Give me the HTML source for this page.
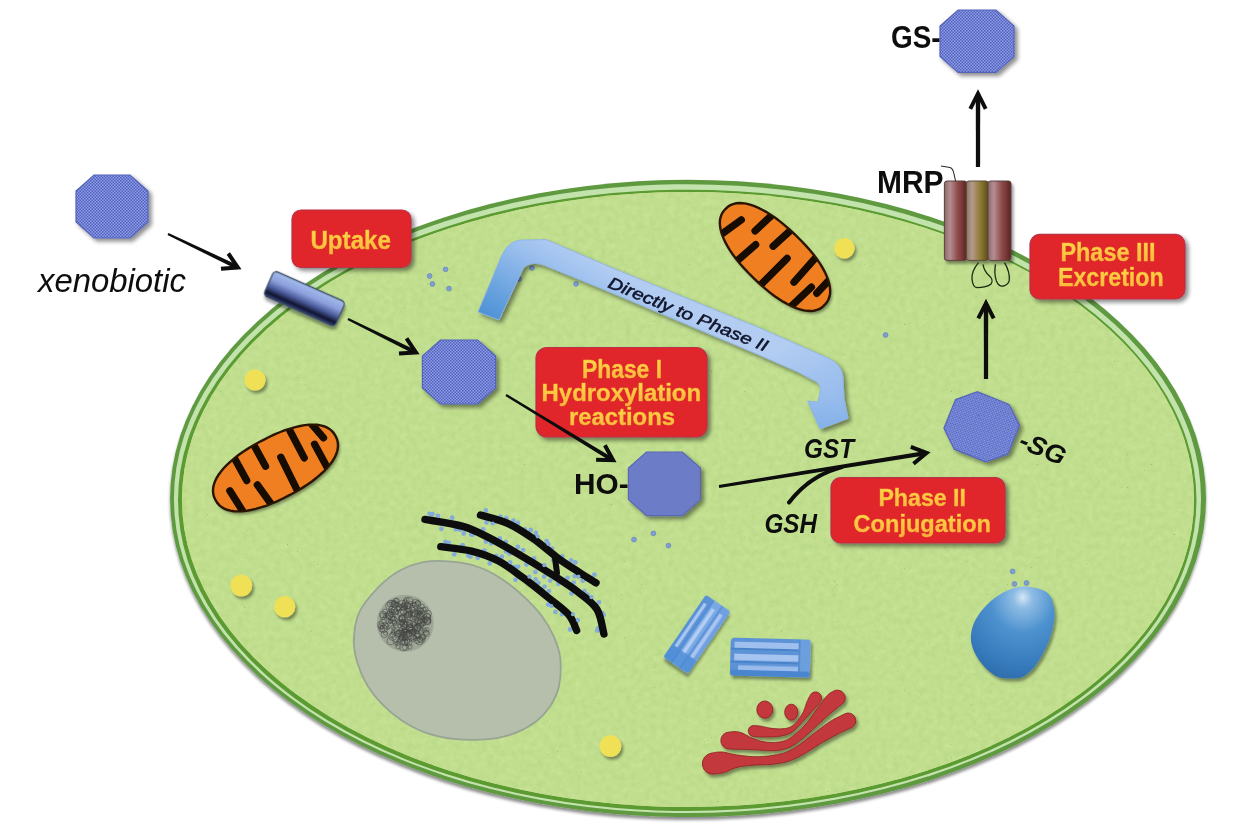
<!DOCTYPE html>
<html><head><meta charset="utf-8"><title>Xenobiotic metabolism</title>
<style>html,body{margin:0;padding:0;background:#fff}svg{display:block;font-family:"Liberation Sans",sans-serif}</style>
</head><body>
<svg width="1250" height="834" viewBox="0 0 1250 834">
<rect width="1250" height="834" fill="#ffffff"/>
<g filter="url(#soft)">

<defs>
<pattern id="chk" width="3" height="3" patternUnits="userSpaceOnUse">
<rect width="3" height="3" fill="#8d9ee6"/><rect width="1.5" height="1.5" fill="#5161bc"/><rect x="1.5" y="1.5" width="1.5" height="1.5" fill="#5161bc"/>
</pattern>
<filter id="sh" x="-20%" y="-20%" width="150%" height="150%"><feGaussianBlur in="SourceAlpha" stdDeviation="2"/><feOffset dx="3" dy="3"/><feComponentTransfer><feFuncA type="linear" slope="0.45"/></feComponentTransfer><feMerge><feMergeNode/><feMergeNode in="SourceGraphic"/></feMerge></filter>
<filter id="shs" x="-20%" y="-20%" width="150%" height="150%"><feGaussianBlur in="SourceAlpha" stdDeviation="1.6"/><feOffset dx="1.5" dy="2.5"/><feComponentTransfer><feFuncA type="linear" slope="0.4"/></feComponentTransfer><feMerge><feMergeNode/><feMergeNode in="SourceGraphic"/></feMerge></filter>
<filter id="cellsh" x="-5%" y="-5%" width="110%" height="112%"><feGaussianBlur in="SourceAlpha" stdDeviation="1.5"/><feOffset dx="0" dy="2.5"/><feComponentTransfer><feFuncA type="linear" slope="0.45"/></feComponentTransfer><feMerge><feMergeNode/><feMergeNode in="SourceGraphic"/></feMerge></filter>
<filter id="soft"><feGaussianBlur stdDeviation="0.75"/></filter>
<filter id="noise" x="0" y="0" width="100%" height="100%" color-interpolation-filters="sRGB"><feTurbulence type="fractalNoise" baseFrequency="0.16" numOctaves="3" seed="5" result="n"/><feColorMatrix in="n" type="matrix" values="0.075 0 0 0 0.717  0.05 0 0 0 0.846  0.08 0 0 0 0.517  0 0 0 0 1" result="c"/><feTurbulence type="fractalNoise" baseFrequency="0.7" numOctaves="1" seed="9" result="m"/><feColorMatrix in="m" type="matrix" values="0 0 0 0 0.42  0 0 0 0 0.56  0 0 0 0 0.25  0 0 0 -7 1.6" result="sp"/><feMerge result="all"><feMergeNode in="c"/><feMergeNode in="sp"/></feMerge><feComposite in="all" in2="SourceGraphic" operator="in"/></filter>
<linearGradient id="ytxt" x1="0" y1="0" x2="0" y2="1"><stop offset="0" stop-color="#ffe04a"/><stop offset="1" stop-color="#fbb13a"/></linearGradient>
<linearGradient id="cyl" x1="0" y1="0" x2="0" y2="1"><stop offset="0" stop-color="#a4bcec"/><stop offset="0.35" stop-color="#8c9fdc"/><stop offset="0.62" stop-color="#4a5a9a"/><stop offset="0.84" stop-color="#10152f"/><stop offset="1" stop-color="#33417a"/></linearGradient>
<linearGradient id="mrpA" x1="0" y1="0" x2="1" y2="0"><stop offset="0" stop-color="#8a6a6a"/><stop offset="0.25" stop-color="#b48e92"/><stop offset="0.6" stop-color="#8e4a48"/><stop offset="1" stop-color="#5e2420"/></linearGradient>
<linearGradient id="mrpB" x1="0" y1="0" x2="1" y2="0"><stop offset="0" stop-color="#8a7468"/><stop offset="0.25" stop-color="#b49a8c"/><stop offset="0.65" stop-color="#8c7a30"/><stop offset="1" stop-color="#5a4a1c"/></linearGradient>
<linearGradient id="barrow" gradientUnits="userSpaceOnUse" x1="486" y1="320" x2="540" y2="228"><stop offset="0" stop-color="#4a90d6"/><stop offset="0.35" stop-color="#6fa6e0"/><stop offset="0.75" stop-color="#9cc0ee"/><stop offset="1" stop-color="#b2ccf2"/></linearGradient>
<linearGradient id="barrow2" gradientUnits="userSpaceOnUse" x1="790" y1="345" x2="832" y2="425"><stop offset="0" stop-color="#8ab4ea" stop-opacity="0"/><stop offset="0.5" stop-color="#8ab4ea" stop-opacity="0.45"/><stop offset="1" stop-color="#7eaee8" stop-opacity="0.75"/></linearGradient>
<radialGradient id="egg" cx="0.62" cy="0.12" r="0.95"><stop offset="0" stop-color="#d4e6f6"/><stop offset="0.12" stop-color="#8ebce4"/><stop offset="0.4" stop-color="#4e92cf"/><stop offset="0.8" stop-color="#3579bb"/><stop offset="1" stop-color="#2d6aa8"/></radialGradient>
<linearGradient id="cen1" x1="0" y1="0" x2="1" y2="0"><stop offset="0" stop-color="#5b95d8"/><stop offset="0.5" stop-color="#86b0e8"/><stop offset="1" stop-color="#6b9de0"/></linearGradient>
</defs>

<g filter="url(#cellsh)"><ellipse cx="688.05" cy="498.4" rx="517.95" ry="318.6" fill="#5f9a40"/></g>
<ellipse cx="687.45" cy="498.6" rx="513.55" ry="314.4" fill="#c3e3ad"/>
<ellipse cx="687.25" cy="500.35" rx="509.25" ry="310.65" fill="#5c9a32"/>
<ellipse cx="688" cy="499.5" rx="506" ry="307.5" fill="#bedd8c"/>
<ellipse cx="688" cy="499.5" rx="506" ry="307.5" fill="#bedd8c" filter="url(#noise)"/>
<path d="M353.8,640.7 C354.1,632.3 354.9,621.8 358.9,613.0 C362.9,604.2 370.8,595.0 377.8,587.8 C384.7,580.7 392.0,574.6 400.4,570.2 C408.8,565.8 418.0,562.7 428.1,561.4 C438.2,560.1 451.6,561.4 460.8,562.7 C470.1,563.9 476.4,566.0 483.5,569.0 C490.6,571.9 496.9,575.7 503.6,580.3 C510.4,584.9 517.5,590.8 523.8,596.6 C530.1,602.5 536.4,608.8 541.4,615.5 C546.4,622.2 550.9,629.8 554.0,636.9 C557.1,644.1 559.5,650.1 560.3,658.3 C561.1,666.5 560.7,678.0 559.0,686.0 C557.4,694.0 554.0,700.3 550.2,706.2 C546.4,712.0 542.0,716.9 536.4,721.3 C530.7,725.7 523.8,729.7 516.2,732.6 C508.7,735.5 501.5,737.8 491.1,738.9 C480.6,739.9 464.2,739.9 453.3,738.9 C442.4,737.8 434.0,735.5 425.6,732.6 C417.2,729.7 410.1,725.9 402.9,721.3 C395.8,716.7 388.7,710.8 382.8,704.9 C376.9,699.0 371.9,692.9 367.7,686.0 C363.5,679.1 359.9,670.9 357.6,663.4 C355.3,655.8 353.6,649.1 353.8,640.7Z" fill="#b6bfab" stroke="#98a494" stroke-width="1.8"/>
<circle cx="405.2" cy="623.2" r="28.5" fill="#8e9688" opacity="0.6"/>
<g fill="none" stroke="#333" stroke-width="0.5" opacity="0.85"><circle cx="400.9" cy="631.7" r="3.0"/><circle cx="421.3" cy="631.1" r="2.4"/><circle cx="421.5" cy="629.4" r="1.7"/><circle cx="399.3" cy="625.8" r="1.8"/><circle cx="385.4" cy="633.4" r="1.9"/><circle cx="408.4" cy="642.3" r="3.7"/><circle cx="391.5" cy="616.0" r="3.7"/><circle cx="426.9" cy="629.8" r="2.2"/><circle cx="410.4" cy="629.8" r="2.3"/><circle cx="409.4" cy="613.7" r="2.9"/><circle cx="395.6" cy="611.7" r="2.8"/><circle cx="410.7" cy="625.5" r="2.1"/><circle cx="398.4" cy="608.7" r="2.3"/><circle cx="391.0" cy="614.8" r="2.3"/><circle cx="410.8" cy="603.5" r="2.1"/><circle cx="389.3" cy="615.2" r="3.5"/><circle cx="403.5" cy="610.2" r="3.8"/><circle cx="416.9" cy="633.9" r="3.3"/><circle cx="415.1" cy="637.2" r="1.7"/><circle cx="394.7" cy="604.5" r="2.9"/><circle cx="414.9" cy="613.5" r="3.1"/><circle cx="389.7" cy="612.8" r="2.6"/><circle cx="418.0" cy="603.1" r="2.6"/><circle cx="402.1" cy="618.0" r="3.1"/><circle cx="390.5" cy="603.7" r="3.4"/><circle cx="401.9" cy="638.1" r="3.1"/><circle cx="421.7" cy="625.6" r="2.0"/><circle cx="409.6" cy="627.2" r="3.3"/><circle cx="413.6" cy="632.1" r="2.5"/><circle cx="410.0" cy="618.2" r="2.6"/><circle cx="383.3" cy="616.2" r="3.4"/><circle cx="413.7" cy="613.4" r="2.5"/><circle cx="390.6" cy="641.1" r="3.7"/><circle cx="411.2" cy="631.6" r="2.1"/><circle cx="407.0" cy="640.2" r="2.9"/><circle cx="405.1" cy="624.8" r="2.5"/><circle cx="392.6" cy="636.7" r="3.7"/><circle cx="398.8" cy="606.8" r="3.0"/><circle cx="402.7" cy="618.1" r="3.6"/><circle cx="409.5" cy="600.7" r="3.4"/><circle cx="393.1" cy="632.9" r="1.8"/><circle cx="401.1" cy="618.6" r="1.7"/><circle cx="407.7" cy="632.7" r="2.3"/><circle cx="405.6" cy="623.3" r="1.9"/><circle cx="417.1" cy="632.0" r="1.7"/><circle cx="418.7" cy="609.6" r="1.9"/><circle cx="405.0" cy="637.6" r="2.4"/><circle cx="421.4" cy="639.0" r="3.8"/><circle cx="388.5" cy="626.8" r="1.8"/><circle cx="416.7" cy="631.8" r="2.2"/><circle cx="409.9" cy="614.5" r="1.7"/><circle cx="422.2" cy="617.8" r="1.9"/><circle cx="401.3" cy="622.1" r="2.8"/><circle cx="427.8" cy="620.1" r="3.1"/><circle cx="404.2" cy="638.0" r="2.0"/><circle cx="407.7" cy="605.5" r="3.3"/><circle cx="399.6" cy="633.4" r="3.4"/><circle cx="427.7" cy="621.1" r="3.4"/><circle cx="414.0" cy="604.0" r="2.1"/><circle cx="390.7" cy="621.6" r="1.7"/><circle cx="418.0" cy="625.5" r="2.2"/><circle cx="396.7" cy="600.8" r="2.6"/><circle cx="427.7" cy="613.8" r="3.7"/><circle cx="397.6" cy="631.8" r="2.1"/><circle cx="408.8" cy="633.7" r="3.0"/><circle cx="423.4" cy="610.0" r="2.7"/><circle cx="392.7" cy="605.2" r="1.8"/><circle cx="392.7" cy="603.4" r="3.3"/><circle cx="405.2" cy="606.3" r="2.0"/><circle cx="408.6" cy="609.5" r="3.4"/><circle cx="420.4" cy="620.5" r="2.5"/><circle cx="424.9" cy="616.4" r="2.0"/><circle cx="411.9" cy="630.0" r="3.6"/><circle cx="408.5" cy="614.4" r="3.4"/><circle cx="424.9" cy="620.7" r="2.4"/><circle cx="396.7" cy="620.5" r="1.6"/><circle cx="424.6" cy="619.6" r="2.8"/><circle cx="420.0" cy="616.7" r="3.5"/><circle cx="410.4" cy="613.2" r="2.2"/><circle cx="402.0" cy="634.8" r="2.9"/><circle cx="404.3" cy="639.0" r="1.9"/><circle cx="417.5" cy="615.4" r="2.6"/><circle cx="385.0" cy="611.5" r="2.5"/><circle cx="420.3" cy="614.6" r="2.8"/><circle cx="401.9" cy="622.7" r="2.6"/><circle cx="405.8" cy="624.6" r="3.4"/><circle cx="413.1" cy="638.1" r="3.2"/><circle cx="392.1" cy="618.3" r="2.7"/><circle cx="384.8" cy="615.8" r="1.8"/><circle cx="393.8" cy="618.7" r="2.2"/><circle cx="407.6" cy="605.9" r="2.8"/><circle cx="406.7" cy="599.8" r="2.6"/><circle cx="392.0" cy="611.9" r="2.7"/><circle cx="399.4" cy="607.8" r="2.8"/><circle cx="381.6" cy="626.5" r="3.1"/><circle cx="422.2" cy="606.5" r="2.2"/><circle cx="383.0" cy="614.5" r="3.4"/><circle cx="410.8" cy="629.7" r="2.6"/><circle cx="416.0" cy="628.5" r="1.8"/><circle cx="394.7" cy="604.2" r="3.6"/><circle cx="416.9" cy="640.3" r="3.1"/><circle cx="419.5" cy="641.2" r="3.7"/><circle cx="409.7" cy="646.7" r="2.5"/><circle cx="380.9" cy="625.1" r="3.4"/><circle cx="413.7" cy="636.9" r="2.7"/><circle cx="399.4" cy="632.4" r="2.3"/><circle cx="404.6" cy="619.8" r="2.8"/><circle cx="402.1" cy="624.4" r="2.3"/><circle cx="392.7" cy="610.9" r="1.7"/><circle cx="426.9" cy="621.2" r="3.7"/><circle cx="415.2" cy="630.9" r="1.7"/><circle cx="407.5" cy="610.7" r="1.9"/><circle cx="384.5" cy="634.2" r="3.4"/><circle cx="404.7" cy="632.7" r="3.6"/><circle cx="386.7" cy="614.4" r="1.8"/><circle cx="424.2" cy="630.4" r="2.5"/><circle cx="426.5" cy="633.6" r="3.0"/><circle cx="407.5" cy="616.5" r="3.5"/><circle cx="426.0" cy="632.5" r="2.6"/><circle cx="395.5" cy="638.6" r="3.6"/><circle cx="404.2" cy="632.0" r="2.8"/><circle cx="405.8" cy="631.3" r="2.0"/><circle cx="415.7" cy="626.6" r="2.3"/><circle cx="398.0" cy="643.3" r="2.2"/><circle cx="394.9" cy="623.2" r="2.4"/><circle cx="417.4" cy="624.6" r="1.6"/><circle cx="403.3" cy="605.1" r="2.0"/><circle cx="381.8" cy="626.9" r="1.8"/><circle cx="412.0" cy="608.6" r="2.7"/><circle cx="413.0" cy="610.0" r="2.7"/><circle cx="395.9" cy="600.7" r="2.4"/><circle cx="415.4" cy="605.3" r="3.0"/><circle cx="393.3" cy="631.3" r="1.7"/><circle cx="409.7" cy="627.9" r="3.2"/><circle cx="404.9" cy="633.1" r="1.8"/><circle cx="417.6" cy="604.0" r="3.1"/><circle cx="402.8" cy="635.0" r="2.2"/><circle cx="395.8" cy="625.7" r="2.6"/><circle cx="403.2" cy="647.2" r="3.7"/><circle cx="393.6" cy="619.7" r="3.7"/><circle cx="399.9" cy="636.8" r="1.6"/><circle cx="392.8" cy="634.6" r="2.7"/><circle cx="410.5" cy="639.8" r="1.6"/><circle cx="404.5" cy="630.5" r="2.5"/><circle cx="408.8" cy="624.2" r="2.3"/><circle cx="407.2" cy="641.8" r="2.8"/><circle cx="405.3" cy="603.3" r="3.2"/><circle cx="416.3" cy="612.7" r="2.3"/><circle cx="414.6" cy="622.3" r="3.2"/><circle cx="402.0" cy="619.2" r="3.4"/><circle cx="420.3" cy="611.0" r="3.2"/><circle cx="408.7" cy="614.7" r="2.8"/><circle cx="382.8" cy="622.6" r="3.4"/><circle cx="413.9" cy="606.6" r="3.6"/><circle cx="396.8" cy="604.6" r="2.1"/><circle cx="414.0" cy="624.9" r="2.4"/><circle cx="422.9" cy="636.9" r="2.8"/><circle cx="391.7" cy="609.2" r="3.1"/><circle cx="403.8" cy="623.3" r="3.4"/><circle cx="405.0" cy="605.8" r="2.8"/><circle cx="401.8" cy="617.9" r="3.2"/><circle cx="405.1" cy="629.9" r="2.2"/><circle cx="403.8" cy="612.2" r="3.2"/><circle cx="422.2" cy="620.6" r="2.4"/><circle cx="385.1" cy="625.9" r="3.3"/><circle cx="390.6" cy="610.0" r="1.8"/><circle cx="412.6" cy="633.1" r="3.2"/><circle cx="399.0" cy="640.6" r="1.6"/><circle cx="417.0" cy="627.9" r="3.1"/><circle cx="398.0" cy="604.4" r="2.2"/><circle cx="388.6" cy="621.5" r="2.6"/><circle cx="422.2" cy="638.9" r="2.0"/><circle cx="428.7" cy="620.0" r="1.6"/><circle cx="383.7" cy="628.9" r="3.7"/><circle cx="393.1" cy="627.2" r="2.1"/><circle cx="415.8" cy="619.4" r="2.9"/><circle cx="416.4" cy="637.0" r="3.7"/><circle cx="420.1" cy="639.6" r="2.7"/><circle cx="420.8" cy="609.8" r="2.1"/><circle cx="418.9" cy="613.0" r="1.7"/><circle cx="422.4" cy="623.6" r="2.6"/><circle cx="402.3" cy="631.9" r="2.4"/><circle cx="396.1" cy="643.8" r="1.6"/><circle cx="405.3" cy="600.7" r="1.9"/><circle cx="423.7" cy="614.0" r="3.6"/><circle cx="401.5" cy="637.7" r="2.5"/><circle cx="424.0" cy="623.1" r="2.4"/><circle cx="393.6" cy="628.8" r="1.7"/><circle cx="423.2" cy="636.6" r="2.2"/><circle cx="416.4" cy="618.4" r="2.2"/><circle cx="394.5" cy="622.5" r="2.4"/><circle cx="427.4" cy="616.9" r="3.4"/><circle cx="389.3" cy="606.0" r="3.7"/><circle cx="385.4" cy="616.9" r="1.7"/><circle cx="403.4" cy="606.8" r="3.3"/><circle cx="397.1" cy="612.9" r="1.7"/><circle cx="413.0" cy="619.3" r="2.6"/><circle cx="397.8" cy="634.3" r="3.2"/><circle cx="417.6" cy="621.3" r="3.0"/><circle cx="399.5" cy="640.6" r="2.5"/><circle cx="410.1" cy="631.8" r="2.1"/><circle cx="419.6" cy="613.6" r="2.1"/><circle cx="425.5" cy="609.6" r="2.6"/><circle cx="412.1" cy="631.5" r="1.8"/><circle cx="401.2" cy="629.4" r="2.1"/><circle cx="404.2" cy="641.7" r="3.6"/><circle cx="405.2" cy="607.5" r="2.5"/><circle cx="390.3" cy="620.9" r="2.3"/><circle cx="417.1" cy="628.1" r="3.7"/><circle cx="417.4" cy="635.6" r="3.0"/><circle cx="412.6" cy="614.6" r="2.2"/><circle cx="405.4" cy="638.7" r="2.6"/><circle cx="426.8" cy="616.8" r="3.5"/><circle cx="409.6" cy="623.8" r="3.2"/><circle cx="418.6" cy="612.9" r="2.9"/><circle cx="420.5" cy="623.2" r="3.6"/><circle cx="415.6" cy="603.0" r="3.7"/><circle cx="405.3" cy="631.3" r="1.9"/><circle cx="385.2" cy="620.4" r="3.7"/><circle cx="401.7" cy="603.8" r="3.3"/><circle cx="387.6" cy="628.0" r="1.7"/><circle cx="407.6" cy="611.6" r="3.6"/><circle cx="397.0" cy="612.5" r="1.9"/><circle cx="405.0" cy="642.7" r="3.1"/><circle cx="410.2" cy="627.4" r="2.8"/><circle cx="392.0" cy="615.6" r="2.1"/><circle cx="403.2" cy="621.7" r="2.3"/><circle cx="381.9" cy="629.1" r="3.0"/><circle cx="417.8" cy="611.9" r="2.1"/><circle cx="405.6" cy="647.2" r="3.2"/><circle cx="403.9" cy="626.6" r="2.7"/><circle cx="397.9" cy="609.1" r="2.2"/><circle cx="393.5" cy="602.7" r="2.1"/><circle cx="419.1" cy="626.2" r="2.5"/><circle cx="400.7" cy="613.3" r="3.4"/><circle cx="404.0" cy="605.8" r="2.1"/><circle cx="418.6" cy="620.6" r="3.4"/><circle cx="406.6" cy="634.7" r="3.3"/><circle cx="398.5" cy="646.2" r="2.7"/><circle cx="409.6" cy="633.9" r="2.5"/></g>
<circle cx="429.6" cy="513.8" r="2.4" fill="#84abda"/>
<circle cx="432.4" cy="514.1" r="2.4" fill="#84abda"/>
<circle cx="438.0" cy="516.0" r="2.4" fill="#84abda"/>
<circle cx="441.4" cy="528.8" r="2.4" fill="#84abda"/>
<circle cx="452.2" cy="517.7" r="2.4" fill="#84abda"/>
<circle cx="455.9" cy="529.3" r="2.4" fill="#84abda"/>
<circle cx="460.2" cy="529.7" r="2.4" fill="#84abda"/>
<circle cx="463.8" cy="533.5" r="2.4" fill="#84abda"/>
<circle cx="471.2" cy="534.5" r="2.4" fill="#84abda"/>
<circle cx="472.5" cy="534.8" r="2.4" fill="#84abda"/>
<circle cx="483.2" cy="529.5" r="2.4" fill="#84abda"/>
<circle cx="485.9" cy="541.5" r="2.4" fill="#84abda"/>
<circle cx="491.2" cy="543.4" r="2.4" fill="#84abda"/>
<circle cx="499.9" cy="538.4" r="2.4" fill="#84abda"/>
<circle cx="505.7" cy="541.8" r="2.4" fill="#84abda"/>
<circle cx="506.0" cy="551.4" r="2.4" fill="#84abda"/>
<circle cx="509.6" cy="553.5" r="2.4" fill="#84abda"/>
<circle cx="517.9" cy="546.9" r="2.4" fill="#84abda"/>
<circle cx="523.1" cy="550.1" r="2.4" fill="#84abda"/>
<circle cx="526.5" cy="564.5" r="2.4" fill="#84abda"/>
<circle cx="534.1" cy="558.5" r="2.4" fill="#84abda"/>
<circle cx="535.4" cy="571.9" r="2.4" fill="#84abda"/>
<circle cx="544.1" cy="565.5" r="2.4" fill="#84abda"/>
<circle cx="544.2" cy="576.6" r="2.4" fill="#84abda"/>
<circle cx="550.2" cy="580.6" r="2.4" fill="#84abda"/>
<circle cx="558.5" cy="583.8" r="2.4" fill="#84abda"/>
<circle cx="567.6" cy="577.8" r="2.4" fill="#84abda"/>
<circle cx="573.6" cy="582.6" r="2.4" fill="#84abda"/>
<circle cx="571.4" cy="593.6" r="2.4" fill="#84abda"/>
<circle cx="584.5" cy="591.1" r="2.4" fill="#84abda"/>
<circle cx="587.3" cy="594.7" r="2.4" fill="#84abda"/>
<circle cx="591.3" cy="597.4" r="2.4" fill="#84abda"/>
<circle cx="599.0" cy="602.4" r="2.4" fill="#84abda"/>
<circle cx="602.5" cy="613.1" r="2.4" fill="#84abda"/>
<circle cx="603.6" cy="615.2" r="2.4" fill="#84abda"/>
<circle cx="598.0" cy="628.3" r="2.4" fill="#84abda"/>
<circle cx="597.3" cy="630.6" r="2.4" fill="#84abda"/>
<circle cx="485.9" cy="510.5" r="2.4" fill="#84abda"/>
<circle cx="486.5" cy="522.4" r="2.4" fill="#84abda"/>
<circle cx="492.8" cy="523.2" r="2.4" fill="#84abda"/>
<circle cx="500.4" cy="516.7" r="2.4" fill="#84abda"/>
<circle cx="506.3" cy="518.2" r="2.4" fill="#84abda"/>
<circle cx="513.4" cy="520.7" r="2.4" fill="#84abda"/>
<circle cx="517.9" cy="522.9" r="2.4" fill="#84abda"/>
<circle cx="524.9" cy="529.4" r="2.4" fill="#84abda"/>
<circle cx="530.7" cy="530.0" r="2.4" fill="#84abda"/>
<circle cx="535.8" cy="533.0" r="2.4" fill="#84abda"/>
<circle cx="537.4" cy="536.6" r="2.4" fill="#84abda"/>
<circle cx="546.6" cy="541.1" r="2.4" fill="#84abda"/>
<circle cx="548.3" cy="544.2" r="2.4" fill="#84abda"/>
<circle cx="552.1" cy="548.6" r="2.4" fill="#84abda"/>
<circle cx="553.3" cy="559.9" r="2.4" fill="#84abda"/>
<circle cx="562.2" cy="556.5" r="2.4" fill="#84abda"/>
<circle cx="571.1" cy="560.4" r="2.4" fill="#84abda"/>
<circle cx="575.2" cy="562.4" r="2.4" fill="#84abda"/>
<circle cx="574.8" cy="576.1" r="2.4" fill="#84abda"/>
<circle cx="578.6" cy="576.4" r="2.4" fill="#84abda"/>
<circle cx="582.7" cy="580.7" r="2.4" fill="#84abda"/>
<circle cx="594.4" cy="574.7" r="2.4" fill="#84abda"/>
<circle cx="445.5" cy="541.8" r="2.4" fill="#84abda"/>
<circle cx="448.7" cy="543.0" r="2.4" fill="#84abda"/>
<circle cx="454.3" cy="554.3" r="2.4" fill="#84abda"/>
<circle cx="462.7" cy="545.2" r="2.4" fill="#84abda"/>
<circle cx="468.3" cy="555.5" r="2.4" fill="#84abda"/>
<circle cx="470.4" cy="556.5" r="2.4" fill="#84abda"/>
<circle cx="477.7" cy="557.8" r="2.4" fill="#84abda"/>
<circle cx="484.5" cy="550.6" r="2.4" fill="#84abda"/>
<circle cx="489.7" cy="563.4" r="2.4" fill="#84abda"/>
<circle cx="496.3" cy="555.9" r="2.4" fill="#84abda"/>
<circle cx="501.9" cy="556.7" r="2.4" fill="#84abda"/>
<circle cx="510.1" cy="562.5" r="2.4" fill="#84abda"/>
<circle cx="514.4" cy="567.0" r="2.4" fill="#84abda"/>
<circle cx="518.1" cy="566.7" r="2.4" fill="#84abda"/>
<circle cx="515.5" cy="579.7" r="2.4" fill="#84abda"/>
<circle cx="529.2" cy="576.9" r="2.4" fill="#84abda"/>
<circle cx="535.6" cy="579.3" r="2.4" fill="#84abda"/>
<circle cx="538.4" cy="583.0" r="2.4" fill="#84abda"/>
<circle cx="544.5" cy="586.6" r="2.4" fill="#84abda"/>
<circle cx="548.9" cy="591.1" r="2.4" fill="#84abda"/>
<circle cx="548.2" cy="604.6" r="2.4" fill="#84abda"/>
<circle cx="551.5" cy="605.7" r="2.4" fill="#84abda"/>
<circle cx="555.4" cy="611.9" r="2.4" fill="#84abda"/>
<circle cx="562.0" cy="614.2" r="2.4" fill="#84abda"/>
<circle cx="572.7" cy="614.5" r="2.4" fill="#84abda"/>
<circle cx="577.7" cy="620.2" r="2.4" fill="#84abda"/>
<circle cx="570.1" cy="629.5" r="2.4" fill="#84abda"/>
<path d="M425.0,519.4 C431.3,520.6 452.2,523.3 462.9,526.4 C473.6,529.5 479.9,533.2 489.3,537.9 C498.7,542.6 509.0,548.6 519.3,554.6 C529.6,560.6 541.3,567.8 551.0,574.0 C560.7,580.2 569.9,585.8 577.5,591.7 C585.1,597.6 592.5,602.2 596.9,609.3 C601.3,616.3 602.7,629.9 603.9,634.0" fill="none" stroke="#0d0d10" stroke-width="7.4" stroke-linecap="round" stroke-linejoin="round"/>
<path d="M480.5,515.0 C485.2,516.5 499.9,519.8 508.7,523.8 C517.5,527.8 525.2,533.1 533.4,538.8 C541.6,544.5 550.4,552.6 558.0,558.2 C565.6,563.8 572.9,568.2 579.2,572.3 C585.5,576.4 593.2,581.0 596.0,582.8" fill="none" stroke="#0d0d10" stroke-width="7.4" stroke-linecap="round" stroke-linejoin="round"/>
<path d="M440.8,546.7 C445.9,547.4 462.1,548.8 471.7,551.1 C481.2,553.5 489.6,556.4 498.1,560.8 C506.6,565.2 514.6,571.6 522.8,577.6 C531.0,583.6 539.9,590.8 547.5,597.0 C555.1,603.2 563.8,609.0 568.6,614.6 C573.5,620.2 575.3,627.8 576.6,630.4" fill="none" stroke="#0d0d10" stroke-width="7.4" stroke-linecap="round" stroke-linejoin="round"/>
<path d="M555,558 L557,573" stroke="#0d0d10" stroke-width="6" stroke-linecap="round"/>
<circle cx="510.1" cy="562.5" r="1.8" fill="#86acd9"/>
<circle cx="551.5" cy="605.7" r="1.8" fill="#86acd9"/>
<circle cx="492.8" cy="523.2" r="1.8" fill="#86acd9"/>
<circle cx="572.7" cy="614.5" r="1.8" fill="#86acd9"/>
<circle cx="571.1" cy="560.4" r="1.8" fill="#86acd9"/>
<circle cx="529.2" cy="576.9" r="1.8" fill="#86acd9"/>
<circle cx="591.3" cy="597.4" r="1.8" fill="#86acd9"/>
<circle cx="575.2" cy="562.4" r="1.8" fill="#86acd9"/>
<circle cx="548.3" cy="544.2" r="1.8" fill="#86acd9"/>
<circle cx="577.7" cy="620.2" r="1.8" fill="#86acd9"/>
<circle cx="537.4" cy="536.6" r="1.8" fill="#86acd9"/>
<circle cx="582.7" cy="580.7" r="1.8" fill="#86acd9"/>
<circle cx="470.4" cy="556.5" r="1.8" fill="#86acd9"/>
<circle cx="578.6" cy="576.4" r="1.8" fill="#86acd9"/>
<circle cx="544.1" cy="565.5" r="1.8" fill="#86acd9"/>
<circle cx="438.0" cy="516.0" r="1.8" fill="#86acd9"/>
<circle cx="429.6" cy="513.8" r="1.8" fill="#86acd9"/>
<circle cx="548.2" cy="604.6" r="1.8" fill="#86acd9"/>
<clipPath id="mc1"><path d="M69.0,0.0 L68.8,3.4 L68.1,6.3 L66.9,9.0 L65.3,11.6 L63.2,14.0 L60.7,16.2 L57.8,18.3 L54.4,20.3 L50.7,22.0 L46.6,23.7 L42.1,25.1 L37.3,26.4 L32.1,27.5 L26.6,28.4 L20.8,29.1 L14.6,29.6 L7.9,29.9 L0.0,30.0 L-7.9,29.9 L-14.6,29.6 L-20.8,29.1 L-26.6,28.4 L-32.1,27.5 L-37.3,26.4 L-42.1,25.1 L-46.6,23.7 L-50.7,22.0 L-54.4,20.3 L-57.8,18.3 L-60.7,16.2 L-63.2,14.0 L-65.3,11.6 L-66.9,9.0 L-68.1,6.3 L-68.8,3.4 L-69.0,0.0 L-68.8,-3.4 L-68.1,-6.3 L-66.9,-9.0 L-65.3,-11.6 L-63.2,-14.0 L-60.7,-16.2 L-57.8,-18.3 L-54.4,-20.3 L-50.7,-22.0 L-46.6,-23.7 L-42.1,-25.1 L-37.3,-26.4 L-32.1,-27.5 L-26.6,-28.4 L-20.8,-29.1 L-14.6,-29.6 L-7.9,-29.9 L-0.0,-30.0 L7.9,-29.9 L14.6,-29.6 L20.8,-29.1 L26.6,-28.4 L32.1,-27.5 L37.3,-26.4 L42.1,-25.1 L46.6,-23.7 L50.7,-22.0 L54.4,-20.3 L57.8,-18.3 L60.7,-16.2 L63.2,-14.0 L65.3,-11.6 L66.9,-9.0 L68.1,-6.3 L68.8,-3.4Z" transform="translate(775,257) rotate(44)"/></clipPath><g filter="url(#shs)"><path d="M69.0,0.0 L68.8,3.4 L68.1,6.3 L66.9,9.0 L65.3,11.6 L63.2,14.0 L60.7,16.2 L57.8,18.3 L54.4,20.3 L50.7,22.0 L46.6,23.7 L42.1,25.1 L37.3,26.4 L32.1,27.5 L26.6,28.4 L20.8,29.1 L14.6,29.6 L7.9,29.9 L0.0,30.0 L-7.9,29.9 L-14.6,29.6 L-20.8,29.1 L-26.6,28.4 L-32.1,27.5 L-37.3,26.4 L-42.1,25.1 L-46.6,23.7 L-50.7,22.0 L-54.4,20.3 L-57.8,18.3 L-60.7,16.2 L-63.2,14.0 L-65.3,11.6 L-66.9,9.0 L-68.1,6.3 L-68.8,3.4 L-69.0,0.0 L-68.8,-3.4 L-68.1,-6.3 L-66.9,-9.0 L-65.3,-11.6 L-63.2,-14.0 L-60.7,-16.2 L-57.8,-18.3 L-54.4,-20.3 L-50.7,-22.0 L-46.6,-23.7 L-42.1,-25.1 L-37.3,-26.4 L-32.1,-27.5 L-26.6,-28.4 L-20.8,-29.1 L-14.6,-29.6 L-7.9,-29.9 L-0.0,-30.0 L7.9,-29.9 L14.6,-29.6 L20.8,-29.1 L26.6,-28.4 L32.1,-27.5 L37.3,-26.4 L42.1,-25.1 L46.6,-23.7 L50.7,-22.0 L54.4,-20.3 L57.8,-18.3 L60.7,-16.2 L63.2,-14.0 L65.3,-11.6 L66.9,-9.0 L68.1,-6.3 L68.8,-3.4Z" transform="translate(775,257) rotate(44)" fill="#f07f22"/></g><g clip-path="url(#mc1)" stroke="#140b06" stroke-width="7.3" stroke-linecap="round"><line x1="720.4" y1="235.1" x2="741.3" y2="219.9"/><line x1="755.1" y1="230.9" x2="776.8" y2="210.5"/><line x1="732.9" y1="264.4" x2="755.6" y2="244.7"/><line x1="773.1" y1="246.2" x2="798.4" y2="223.2"/><line x1="757.7" y1="287.8" x2="787.1" y2="258.4"/><line x1="794.0" y1="282.2" x2="821.2" y2="251.3"/><line x1="790.3" y1="307.1" x2="811.4" y2="287.2"/><line x1="816.8" y1="293.3" x2="833.9" y2="274.9"/></g><path d="M69.0,0.0 L68.8,3.4 L68.1,6.3 L66.9,9.0 L65.3,11.6 L63.2,14.0 L60.7,16.2 L57.8,18.3 L54.4,20.3 L50.7,22.0 L46.6,23.7 L42.1,25.1 L37.3,26.4 L32.1,27.5 L26.6,28.4 L20.8,29.1 L14.6,29.6 L7.9,29.9 L0.0,30.0 L-7.9,29.9 L-14.6,29.6 L-20.8,29.1 L-26.6,28.4 L-32.1,27.5 L-37.3,26.4 L-42.1,25.1 L-46.6,23.7 L-50.7,22.0 L-54.4,20.3 L-57.8,18.3 L-60.7,16.2 L-63.2,14.0 L-65.3,11.6 L-66.9,9.0 L-68.1,6.3 L-68.8,3.4 L-69.0,0.0 L-68.8,-3.4 L-68.1,-6.3 L-66.9,-9.0 L-65.3,-11.6 L-63.2,-14.0 L-60.7,-16.2 L-57.8,-18.3 L-54.4,-20.3 L-50.7,-22.0 L-46.6,-23.7 L-42.1,-25.1 L-37.3,-26.4 L-32.1,-27.5 L-26.6,-28.4 L-20.8,-29.1 L-14.6,-29.6 L-7.9,-29.9 L-0.0,-30.0 L7.9,-29.9 L14.6,-29.6 L20.8,-29.1 L26.6,-28.4 L32.1,-27.5 L37.3,-26.4 L42.1,-25.1 L46.6,-23.7 L50.7,-22.0 L54.4,-20.3 L57.8,-18.3 L60.7,-16.2 L63.2,-14.0 L65.3,-11.6 L66.9,-9.0 L68.1,-6.3 L68.8,-3.4Z" transform="translate(775,257) rotate(44)" fill="none" stroke="#2a1405" stroke-width="2.4"/>
<clipPath id="mc2"><path d="M68.0,0.0 L67.8,3.5 L67.1,6.4 L65.9,9.2 L64.3,11.8 L62.3,14.2 L59.8,16.5 L57.0,18.6 L53.7,20.6 L50.0,22.4 L45.9,24.1 L41.5,25.5 L36.7,26.8 L31.6,27.9 L26.2,28.9 L20.5,29.6 L14.3,30.1 L7.8,30.4 L0.0,30.5 L-7.8,30.4 L-14.3,30.1 L-20.5,29.6 L-26.2,28.9 L-31.6,27.9 L-36.7,26.8 L-41.5,25.5 L-45.9,24.1 L-50.0,22.4 L-53.7,20.6 L-57.0,18.6 L-59.8,16.5 L-62.3,14.2 L-64.3,11.8 L-65.9,9.2 L-67.1,6.4 L-67.8,3.5 L-68.0,0.0 L-67.8,-3.5 L-67.1,-6.4 L-65.9,-9.2 L-64.3,-11.8 L-62.3,-14.2 L-59.8,-16.5 L-57.0,-18.6 L-53.7,-20.6 L-50.0,-22.4 L-45.9,-24.1 L-41.5,-25.5 L-36.7,-26.8 L-31.6,-27.9 L-26.2,-28.9 L-20.5,-29.6 L-14.3,-30.1 L-7.8,-30.4 L-0.0,-30.5 L7.8,-30.4 L14.3,-30.1 L20.5,-29.6 L26.2,-28.9 L31.6,-27.9 L36.7,-26.8 L41.5,-25.5 L45.9,-24.1 L50.0,-22.4 L53.7,-20.6 L57.0,-18.6 L59.8,-16.5 L62.3,-14.2 L64.3,-11.8 L65.9,-9.2 L67.1,-6.4 L67.8,-3.5Z" transform="translate(275.5,468) rotate(-28)"/></clipPath><g filter="url(#shs)"><path d="M68.0,0.0 L67.8,3.5 L67.1,6.4 L65.9,9.2 L64.3,11.8 L62.3,14.2 L59.8,16.5 L57.0,18.6 L53.7,20.6 L50.0,22.4 L45.9,24.1 L41.5,25.5 L36.7,26.8 L31.6,27.9 L26.2,28.9 L20.5,29.6 L14.3,30.1 L7.8,30.4 L0.0,30.5 L-7.8,30.4 L-14.3,30.1 L-20.5,29.6 L-26.2,28.9 L-31.6,27.9 L-36.7,26.8 L-41.5,25.5 L-45.9,24.1 L-50.0,22.4 L-53.7,20.6 L-57.0,18.6 L-59.8,16.5 L-62.3,14.2 L-64.3,11.8 L-65.9,9.2 L-67.1,6.4 L-67.8,3.5 L-68.0,0.0 L-67.8,-3.5 L-67.1,-6.4 L-65.9,-9.2 L-64.3,-11.8 L-62.3,-14.2 L-59.8,-16.5 L-57.0,-18.6 L-53.7,-20.6 L-50.0,-22.4 L-45.9,-24.1 L-41.5,-25.5 L-36.7,-26.8 L-31.6,-27.9 L-26.2,-28.9 L-20.5,-29.6 L-14.3,-30.1 L-7.8,-30.4 L-0.0,-30.5 L7.8,-30.4 L14.3,-30.1 L20.5,-29.6 L26.2,-28.9 L31.6,-27.9 L36.7,-26.8 L41.5,-25.5 L45.9,-24.1 L50.0,-22.4 L53.7,-20.6 L57.0,-18.6 L59.8,-16.5 L62.3,-14.2 L64.3,-11.8 L65.9,-9.2 L67.1,-6.4 L67.8,-3.5Z" transform="translate(275.5,468) rotate(-28)" fill="#f07f22"/></g><g clip-path="url(#mc2)" stroke="#140b06" stroke-width="7.3" stroke-linecap="round"><line x1="229.9" y1="490.8" x2="245.5" y2="515.6"/><line x1="230.2" y1="450.5" x2="246.7" y2="480.6"/><line x1="257.4" y1="484.9" x2="274.7" y2="509.0"/><line x1="250.0" y1="438.0" x2="265.5" y2="466.2"/><line x1="280.8" y1="457.2" x2="301.5" y2="498.9"/><line x1="285.2" y1="421.7" x2="304.2" y2="457.9"/><line x1="314.6" y1="444.2" x2="330.5" y2="473.6"/><line x1="308.9" y1="420.9" x2="323.5" y2="437.8"/></g><path d="M68.0,0.0 L67.8,3.5 L67.1,6.4 L65.9,9.2 L64.3,11.8 L62.3,14.2 L59.8,16.5 L57.0,18.6 L53.7,20.6 L50.0,22.4 L45.9,24.1 L41.5,25.5 L36.7,26.8 L31.6,27.9 L26.2,28.9 L20.5,29.6 L14.3,30.1 L7.8,30.4 L0.0,30.5 L-7.8,30.4 L-14.3,30.1 L-20.5,29.6 L-26.2,28.9 L-31.6,27.9 L-36.7,26.8 L-41.5,25.5 L-45.9,24.1 L-50.0,22.4 L-53.7,20.6 L-57.0,18.6 L-59.8,16.5 L-62.3,14.2 L-64.3,11.8 L-65.9,9.2 L-67.1,6.4 L-67.8,3.5 L-68.0,0.0 L-67.8,-3.5 L-67.1,-6.4 L-65.9,-9.2 L-64.3,-11.8 L-62.3,-14.2 L-59.8,-16.5 L-57.0,-18.6 L-53.7,-20.6 L-50.0,-22.4 L-45.9,-24.1 L-41.5,-25.5 L-36.7,-26.8 L-31.6,-27.9 L-26.2,-28.9 L-20.5,-29.6 L-14.3,-30.1 L-7.8,-30.4 L-0.0,-30.5 L7.8,-30.4 L14.3,-30.1 L20.5,-29.6 L26.2,-28.9 L31.6,-27.9 L36.7,-26.8 L41.5,-25.5 L45.9,-24.1 L50.0,-22.4 L53.7,-20.6 L57.0,-18.6 L59.8,-16.5 L62.3,-14.2 L64.3,-11.8 L65.9,-9.2 L67.1,-6.4 L67.8,-3.5Z" transform="translate(275.5,468) rotate(-28)" fill="none" stroke="#2a1405" stroke-width="2.4"/>
<g transform="translate(697,634.3) rotate(34.4)" filter="url(#shs)"><rect x="-15" y="-37.5" width="30" height="75" rx="3" fill="#6a9ede"/><rect x="-15" y="-37.5" width="10" height="75" rx="2" fill="#5a92d6"/><rect x="-5" y="-37.5" width="10" height="75" fill="#7aaae6"/><rect x="5" y="-37.5" width="10" height="75" rx="2" fill="#6fa0e0"/><rect x="-12" y="-30" width="3.2" height="52" fill="#a9c6f2"/><rect x="-2.5" y="-30" width="3.6" height="54" fill="#b3cdf4"/><rect x="7" y="-30" width="3.6" height="52" fill="#a9c6f2"/><rect x="-15" y="22" width="30" height="15.5" rx="3" fill="#4f8ed6" opacity="0.75"/><path d="M-5,-37.5V37.5M5,-37.5V37.5" stroke="#4a82ca" stroke-width="1"/></g>
<g transform="translate(770.3,657.6) rotate(1.5)" filter="url(#shs)"><rect x="-40" y="-19" width="80" height="38" rx="4" fill="#5b93d6"/><rect x="-36" y="-15" width="64" height="6" fill="#9fc0ee"/><rect x="-36" y="-3" width="64" height="6.5" fill="#a6c4f0"/><rect x="-32" y="8.5" width="60" height="5.5" fill="#9abcec"/><path d="M-40,-8H40M-40,5H40" stroke="#467fc6" stroke-width="1.6"/><rect x="28" y="-19" width="12" height="38" rx="3" fill="#6c9fde"/><path d="M29,-19V19" stroke="#4a82c8" stroke-width="1.2"/><rect x="-40" y="13" width="80" height="6" rx="3" fill="#4a86cf"/></g>
<g filter="url(#shs)" fill="#c2383c" stroke="#8e2226" stroke-width="0.9" stroke-linejoin="round"><ellipse cx="764.8" cy="709.6" rx="8" ry="8.6"/><ellipse cx="791.3" cy="712.2" rx="6.6" ry="8"/><path d="M714.4,774.1 L715.0,774.0 L715.8,773.9 L716.7,773.8 L717.6,773.7 L718.7,773.6 L719.8,773.5 L720.9,773.3 L722.0,773.1 L723.1,772.8 L724.2,772.5 L725.3,772.1 L726.5,771.7 L727.7,771.2 L728.9,770.6 L730.2,770.0 L731.4,769.4 L732.8,768.8 L734.1,768.3 L735.5,767.8 L737.0,767.4 L738.5,767.1 L740.1,766.7 L741.8,766.5 L743.6,766.2 L745.4,766.0 L747.3,765.8 L749.1,765.6 L750.9,765.4 L752.8,765.3 L754.5,765.1 L756.2,765.0 L757.8,764.9 L759.5,764.9 L761.1,764.8 L762.8,764.8 L764.5,764.8 L766.1,764.7 L767.8,764.7 L769.5,764.6 L771.2,764.4 L772.9,764.2 L774.6,764.0 L776.3,763.8 L778.0,763.5 L779.8,763.3 L781.5,762.9 L783.3,762.6 L785.0,762.2 L786.8,761.7 L788.6,761.2 L790.3,760.6 L791.9,760.0 L793.6,759.3 L795.2,758.6 L796.8,757.8 L798.4,757.0 L799.9,756.2 L801.5,755.4 L803.1,754.5 L804.7,753.6 L806.4,752.6 L808.2,751.5 L809.9,750.4 L811.6,749.3 L813.4,748.2 L815.1,747.0 L816.8,745.9 L818.5,744.9 L820.1,743.8 L821.7,742.8 L823.4,741.9 L825.1,740.9 L826.9,739.9 L828.6,739.0 L830.3,738.0 L832.0,737.1 L833.6,736.2 L835.3,735.4 L836.8,734.6 L838.3,733.8 L839.7,733.1 L841.2,732.4 L842.7,731.6 L844.3,730.9 L845.7,730.2 L847.2,729.5 L848.5,728.9 L849.7,728.4 L850.7,727.9 L851.6,727.5 L853.9,725.7 L855.4,723.1 L855.8,720.2 L855.1,717.3 L853.3,714.9 L850.7,713.4 L847.8,713.0 L844.9,713.8 L844.1,714.2 L843.2,714.6 L842.0,715.2 L840.7,715.9 L839.2,716.6 L837.6,717.4 L836.0,718.2 L834.3,719.1 L832.6,720.1 L831.0,721.1 L829.4,722.1 L827.8,723.1 L826.2,724.3 L824.6,725.4 L823.0,726.6 L821.4,727.8 L819.7,729.0 L818.1,730.3 L816.5,731.5 L814.9,732.7 L813.3,733.9 L811.6,735.2 L810.0,736.5 L808.4,737.8 L806.8,739.1 L805.2,740.4 L803.7,741.6 L802.2,742.7 L800.7,743.8 L799.3,744.8 L797.8,745.8 L796.4,746.7 L795.0,747.6 L793.6,748.4 L792.3,749.2 L790.9,750.0 L789.6,750.6 L788.3,751.3 L786.9,751.9 L785.5,752.4 L784.1,752.9 L782.7,753.4 L781.2,753.8 L779.7,754.1 L778.2,754.5 L776.6,754.8 L775.0,755.0 L773.4,755.3 L771.8,755.5 L770.2,755.8 L768.7,756.0 L767.1,756.1 L765.6,756.3 L764.1,756.4 L762.5,756.5 L760.9,756.6 L759.3,756.7 L757.7,756.7 L756.0,756.7 L754.3,756.7 L752.6,756.6 L750.8,756.5 L749.0,756.4 L747.2,756.2 L745.4,756.0 L743.5,755.8 L741.7,755.6 L739.9,755.4 L738.2,755.1 L736.5,754.9 L734.8,754.6 L733.2,754.3 L731.7,754.0 L730.2,753.6 L728.7,753.3 L727.3,752.9 L725.9,752.6 L724.6,752.3 L723.3,752.1 L722.0,752.0 L720.7,751.9 L719.4,752.0 L718.1,752.1 L716.9,752.2 L715.7,752.4 L714.6,752.6 L713.6,752.7 L712.7,752.9 L712.0,753.0 L711.5,753.1 L707.6,754.5 L704.5,757.2 L702.7,760.9 L702.4,765.1 L703.8,769.0 L706.5,772.1 L710.2,773.9Z"/><path d="M729.2,748.9 L729.8,749.0 L730.6,749.0 L731.3,749.0 L732.1,749.1 L732.9,749.2 L733.7,749.2 L734.5,749.3 L735.3,749.3 L736.1,749.4 L736.8,749.4 L737.5,749.3 L738.5,749.3 L739.6,749.3 L740.8,749.3 L742.0,749.3 L743.4,749.4 L744.8,749.4 L746.2,749.5 L747.7,749.5 L749.0,749.6 L750.3,749.7 L751.6,749.7 L752.9,749.8 L754.1,749.8 L755.4,749.9 L756.7,750.0 L758.0,750.1 L759.4,750.1 L760.7,750.2 L762.1,750.3 L763.4,750.3 L764.8,750.4 L766.2,750.5 L767.7,750.6 L769.1,750.6 L770.6,750.7 L772.1,750.7 L773.6,750.7 L775.1,750.7 L776.5,750.5 L777.9,750.4 L779.3,750.2 L780.6,749.9 L782.0,749.7 L783.4,749.4 L784.7,749.0 L786.1,748.6 L787.4,748.1 L788.7,747.6 L790.0,747.1 L791.3,746.4 L792.6,745.7 L793.9,745.0 L795.1,744.2 L796.2,743.4 L797.4,742.6 L798.5,741.7 L799.6,740.9 L800.7,740.0 L801.9,739.2 L803.0,738.2 L804.2,737.3 L805.3,736.3 L806.5,735.3 L807.6,734.2 L808.7,733.2 L809.9,732.1 L811.0,731.1 L812.2,730.0 L813.4,728.9 L814.6,727.8 L815.8,726.7 L817.1,725.5 L818.3,724.3 L819.5,723.2 L820.8,722.0 L822.0,720.9 L823.2,719.8 L824.4,718.7 L825.6,717.7 L826.8,716.6 L828.1,715.5 L829.4,714.3 L830.7,713.2 L832.0,712.1 L833.3,711.1 L834.5,710.1 L835.6,709.2 L836.5,708.4 L837.4,707.7 L838.0,707.2 L838.5,706.8 L839.0,706.4 L839.4,706.1 L839.8,705.9 L840.1,705.6 L840.5,705.3 L840.9,705.1 L841.4,704.7 L841.9,704.4 L844.0,702.2 L845.1,699.3 L845.1,696.2 L843.8,693.4 L841.6,691.3 L838.7,690.2 L835.7,690.2 L832.8,691.5 L832.7,691.6 L832.5,691.7 L832.1,691.9 L831.5,692.2 L830.8,692.6 L830.1,693.1 L829.2,693.7 L828.3,694.5 L827.4,695.3 L826.5,696.3 L825.6,697.3 L824.6,698.5 L823.6,699.7 L822.6,701.0 L821.6,702.4 L820.6,703.8 L819.5,705.3 L818.5,706.7 L817.5,708.1 L816.5,709.4 L815.5,710.8 L814.5,712.2 L813.6,713.6 L812.6,715.0 L811.7,716.3 L810.7,717.7 L809.8,719.0 L808.8,720.3 L807.9,721.5 L806.9,722.7 L805.9,723.8 L804.9,725.0 L803.9,726.1 L802.9,727.1 L801.8,728.2 L800.8,729.2 L799.8,730.1 L798.7,731.1 L797.7,732.0 L796.7,732.8 L795.6,733.7 L794.6,734.6 L793.6,735.4 L792.6,736.2 L791.6,737.0 L790.6,737.7 L789.7,738.3 L788.7,738.9 L787.7,739.4 L786.8,739.9 L785.8,740.3 L784.7,740.7 L783.7,741.0 L782.6,741.3 L781.5,741.6 L780.4,741.8 L779.3,742.0 L778.1,742.2 L777.0,742.3 L775.8,742.4 L774.6,742.5 L773.4,742.5 L772.2,742.5 L770.9,742.5 L769.6,742.4 L768.3,742.3 L766.9,742.2 L765.6,742.0 L764.3,741.8 L763.0,741.6 L761.8,741.4 L760.7,741.1 L759.5,740.8 L758.4,740.4 L757.3,740.1 L756.2,739.7 L755.0,739.3 L753.9,738.8 L752.7,738.4 L751.6,737.9 L750.5,737.4 L749.4,736.9 L748.3,736.2 L747.1,735.6 L745.9,734.9 L744.7,734.3 L743.5,733.6 L742.2,733.1 L740.8,732.6 L739.4,732.2 L738.0,731.9 L736.6,731.7 L735.3,731.6 L734.0,731.6 L732.9,731.7 L731.8,731.8 L730.9,731.9 L730.2,732.0 L729.7,732.0 L729.3,732.1 L726.1,732.7 L723.3,734.5 L721.5,737.2 L720.8,740.4 L721.4,743.7 L723.2,746.4 L726.0,748.3Z"/><path d="M753.2,736.4 L753.6,736.4 L754.0,736.5 L754.5,736.5 L755.0,736.6 L755.6,736.7 L756.3,736.7 L757.0,736.8 L757.7,736.8 L758.5,736.9 L759.3,736.9 L760.2,736.9 L761.1,737.0 L762.1,737.0 L763.2,737.0 L764.4,737.0 L765.6,737.0 L766.9,737.0 L768.1,737.0 L769.3,737.0 L770.5,736.9 L771.7,736.9 L772.8,736.8 L774.0,736.8 L775.2,736.7 L776.3,736.6 L777.5,736.5 L778.7,736.4 L779.8,736.2 L781.0,736.0 L782.1,735.8 L783.1,735.6 L784.1,735.4 L785.1,735.1 L786.0,734.8 L787.0,734.5 L788.0,734.1 L788.9,733.7 L789.9,733.3 L790.8,732.8 L791.7,732.3 L792.6,731.7 L793.4,731.1 L794.2,730.4 L795.0,729.8 L795.8,729.1 L796.5,728.3 L797.2,727.6 L798.0,726.8 L798.7,726.0 L799.5,725.3 L800.3,724.4 L801.1,723.5 L801.9,722.6 L802.8,721.7 L803.6,720.8 L804.4,719.8 L805.3,718.8 L806.1,717.9 L807.0,716.9 L807.9,715.9 L808.8,715.0 L809.7,713.9 L810.7,712.9 L811.7,711.8 L812.7,710.7 L813.6,709.7 L814.5,708.7 L815.4,707.8 L816.2,707.0 L816.8,706.2 L817.4,705.5 L818.0,704.8 L818.5,704.2 L818.9,703.6 L819.3,703.1 L819.6,702.6 L820.0,702.1 L820.2,701.7 L820.5,701.4 L820.7,701.1 L821.5,698.9 L821.4,696.6 L820.5,694.4 L818.8,692.8 L816.6,692.0 L814.3,692.1 L812.1,693.0 L810.5,694.7 L810.4,695.1 L810.2,695.4 L809.9,695.8 L809.6,696.3 L809.4,696.9 L809.0,697.4 L808.7,698.1 L808.3,698.8 L808.0,699.6 L807.6,700.5 L807.2,701.5 L806.7,702.6 L806.3,703.8 L805.9,705.0 L805.4,706.3 L805.0,707.7 L804.5,708.9 L804.0,710.2 L803.5,711.4 L802.9,712.5 L802.4,713.6 L801.8,714.7 L801.1,715.8 L800.5,716.8 L799.8,717.8 L799.1,718.8 L798.4,719.7 L797.7,720.6 L797.0,721.5 L796.3,722.3 L795.6,723.0 L794.9,723.7 L794.2,724.3 L793.5,724.9 L792.8,725.5 L792.0,726.0 L791.3,726.4 L790.6,726.8 L789.9,727.2 L789.2,727.5 L788.5,727.7 L787.7,728.0 L787.0,728.2 L786.2,728.3 L785.5,728.5 L784.7,728.6 L783.8,728.6 L783.0,728.7 L782.1,728.8 L781.1,728.8 L780.2,728.9 L779.3,728.9 L778.3,728.8 L777.3,728.8 L776.2,728.8 L775.2,728.7 L774.1,728.6 L773.0,728.5 L771.9,728.4 L770.9,728.3 L769.9,728.1 L768.8,727.9 L767.8,727.7 L766.7,727.4 L765.5,727.2 L764.4,726.9 L763.4,726.7 L762.3,726.5 L761.3,726.3 L760.4,726.1 L759.5,726.0 L758.7,725.9 L758.0,725.8 L757.2,725.7 L756.6,725.7 L756.0,725.6 L755.4,725.6 L754.9,725.6 L754.5,725.6 L754.2,725.5 L752.1,725.8 L750.2,726.8 L748.9,728.5 L748.3,730.5 L748.5,732.6 L749.6,734.5 L751.2,735.8Z"/></g>
<g filter="url(#shs)"><path d="M1029.9,586.9 C1035.9,587.6 1043.9,589.4 1047.9,593.2 C1052.0,596.9 1053.3,604.0 1054.2,609.4 C1055.1,614.7 1054.4,619.8 1053.3,625.5 C1052.3,631.2 1050.6,637.2 1047.9,643.5 C1045.2,649.8 1041.0,657.9 1037.1,663.3 C1033.2,668.7 1028.7,673.4 1024.5,675.9 C1020.3,678.4 1016.7,678.6 1011.9,678.6 C1007.1,678.6 1000.9,678.4 995.8,675.9 C990.7,673.4 985.3,668.1 981.4,663.3 C977.5,658.5 974.0,652.5 972.4,647.1 C970.7,641.7 970.4,636.3 971.5,630.9 C972.5,625.5 974.9,620.1 978.7,614.7 C982.4,609.4 988.4,602.9 994.0,598.6 C999.5,594.2 1005.9,590.6 1011.9,588.7 C1017.9,586.7 1023.9,586.1 1029.9,586.9Z" fill="url(#egg)"/></g>
<g filter="url(#shs)"><circle cx="255" cy="380" r="10.6" fill="#efe056"/></g>
<g filter="url(#shs)"><circle cx="241.3" cy="585.5" r="10.8" fill="#efe056"/></g>
<g filter="url(#shs)"><circle cx="284.7" cy="606.7" r="10.6" fill="#efe056"/></g>
<g filter="url(#shs)"><circle cx="610.4" cy="746" r="10.8" fill="#efe056"/></g>
<g filter="url(#shs)"><circle cx="844.3" cy="248.3" r="10.3" fill="#efe056"/></g>
<circle cx="445.6" cy="269.4" r="2.4" fill="#7f9fd2" stroke="#6a86bc" stroke-width="0.8"/>
<circle cx="429.6" cy="276" r="2.4" fill="#7f9fd2" stroke="#6a86bc" stroke-width="0.8"/>
<circle cx="432.4" cy="284" r="2.4" fill="#7f9fd2" stroke="#6a86bc" stroke-width="0.8"/>
<circle cx="449" cy="288.6" r="2.4" fill="#7f9fd2" stroke="#6a86bc" stroke-width="0.8"/>
<circle cx="634" cy="539.6" r="2.4" fill="#7f9fd2" stroke="#6a86bc" stroke-width="0.8"/>
<circle cx="653.4" cy="533.4" r="2.4" fill="#7f9fd2" stroke="#6a86bc" stroke-width="0.8"/>
<circle cx="668.4" cy="545.6" r="2.4" fill="#7f9fd2" stroke="#6a86bc" stroke-width="0.8"/>
<circle cx="1012.6" cy="571.4" r="2.4" fill="#7f9fd2" stroke="#6a86bc" stroke-width="0.8"/>
<circle cx="1014.5" cy="584" r="2.4" fill="#7f9fd2" stroke="#6a86bc" stroke-width="0.8"/>
<circle cx="1026.5" cy="583" r="2.4" fill="#7f9fd2" stroke="#6a86bc" stroke-width="0.8"/>
<circle cx="885.6" cy="335" r="2.4" fill="#7f9fd2" stroke="#6a86bc" stroke-width="0.8"/>
<circle cx="532" cy="268" r="2.4" fill="#7f9fd2" stroke="#6a86bc" stroke-width="0.8"/>
<circle cx="519" cy="279" r="2.4" fill="#7f9fd2" stroke="#6a86bc" stroke-width="0.8"/>
<circle cx="576" cy="284" r="2.4" fill="#7f9fd2" stroke="#6a86bc" stroke-width="0.8"/>
<g filter="url(#sh)"><path d="M478,312 L501,257 C506,246 512,240.5 522,240 L546,239.6 L610,267 L760,328 L828,358 C838,363 842,368 843,378 L844,398 L848,418.4 L820,429 L807.6,401 L818,402 L820.5,390 C820,384 818,382 812,379.5 L798,372 L752,352 L600,288 L546,266 C540,263.5 534,262.5 529,264.5 C525,266 523,268 521,273 L499,320 Z" fill="url(#barrow)" stroke="#8db2e2" stroke-width="0.8"/></g><path d="M478,312 L501,257 C506,246 512,240.5 522,240 L546,239.6 L610,267 L760,328 L828,358 C838,363 842,368 843,378 L844,398 L848,418.4 L820,429 L807.6,401 L818,402 L820.5,390 C820,384 818,382 812,379.5 L798,372 L752,352 L600,288 L546,266 C540,263.5 534,262.5 529,264.5 C525,266 523,268 521,273 L499,320 Z" fill="url(#barrow2)"/>
<g filter="url(#sh)"><polygon points="94.0,175.0 130.0,175.0 148.0,191.0 148.0,222.0 130.0,238.0 94.0,238.0 76.0,222.0 76.0,191.0" fill="url(#chk)" stroke="#5564bb" stroke-width="1.2"/></g>
<g filter="url(#sh)"><polygon points="440.4,340.0 477.6,340.0 495.6,356.0 495.6,388.0 477.6,404.0 440.4,404.0 422.4,388.0 422.4,356.0" fill="url(#chk)" stroke="#5564bb" stroke-width="1.2"/></g>
<g filter="url(#sh)"><polygon points="646.4,452.0 682.4,452.0 700.4,468.0 700.4,499.6 682.4,515.6 646.4,515.6 628.4,499.6 628.4,468.0" fill="#6c7cc6" stroke="#5968b4" stroke-width="1.2"/></g>
<g filter="url(#sh)"><polygon points="958.0,10.0 996.0,10.0 1014.0,26.0 1014.0,56.4 996.0,72.4 958.0,72.4 940.0,56.4 940.0,26.0" fill="url(#chk)" stroke="#5564bb" stroke-width="1.2"/></g>
<g filter="url(#sh)"><polygon points="964.7,395.8 998.7,395.8 1016.2,411.3 1016.2,442.3 998.7,457.8 964.7,457.8 947.2,442.3 947.2,411.3" fill="url(#chk)" stroke="#5564bb" stroke-width="1.2" transform="rotate(22 981.7 426.8)"/></g>
<g transform="translate(304.4,298.7) rotate(24)" filter="url(#shs)"><rect x="-39" y="-13.5" width="78" height="27" rx="4" fill="url(#cyl)" stroke="#3f4f66" stroke-width="1.3"/></g>
<g filter="url(#shs)"><rect x="944.4" y="181" width="22.5" height="79.4" rx="2.5" fill="url(#mrpA)" stroke="#5a4040" stroke-width="1"/><rect x="966.4" y="181" width="22" height="79.4" rx="2.5" fill="url(#mrpB)" stroke="#5a4a38" stroke-width="1"/><rect x="988" y="181" width="23" height="79.4" rx="2.5" fill="url(#mrpA)" stroke="#5a4040" stroke-width="1"/></g><path d="M941,166 L950,167.5 C953,168.5 953.5,171 954,174 L955.6,181" fill="none" stroke="#2a2a2a" stroke-width="1.1"/><path d="M978.5,262.6 C974,268 971.5,273 972,279 C972.5,284 974,287.5 977,287.6 C981,287.6 988,286.5 991,284 C993,281.5 992,278 989,275.5 C986,273 984,270 983,264.4" fill="none" stroke="#1e2a14" stroke-width="1.3"/><path d="M995.5,264.4 C994.5,270 995,277 996.4,281 C998,285 1001,286.5 1003.5,286 C1007,285 1009,283.5 1009.3,280 C1009.6,275 1009,270 1004.5,262.6" fill="none" stroke="#1e2a14" stroke-width="1.3"/>
<g filter="url(#sh)"><rect x="292" y="210" width="119" height="57.5" rx="9" ry="9" fill="#e0262c" stroke="#b8304a" stroke-width="1.2"/></g>
<text x="310.4" y="249.4" font-size="26.5" font-weight="bold" fill="url(#ytxt)" textLength="80.6" lengthAdjust="spacingAndGlyphs" stroke="#f6b83a" stroke-width="0.4">Uptake</text>
<g filter="url(#sh)"><rect x="536" y="347.5" width="171" height="89.5" rx="11" ry="11" fill="#e0262c" stroke="#b8304a" stroke-width="1.2"/></g>
<text x="582" y="377.6" font-size="25.5" font-weight="bold" fill="url(#ytxt)" textLength="80.0" lengthAdjust="spacingAndGlyphs" stroke="#f6b83a" stroke-width="0.4">Phase I</text>
<text x="541.6" y="401.3" font-size="24" font-weight="bold" fill="url(#ytxt)" textLength="159.4" lengthAdjust="spacingAndGlyphs" stroke="#f6b83a" stroke-width="0.4">Hydroxylation</text>
<text x="569" y="425" font-size="24.5" font-weight="bold" fill="url(#ytxt)" textLength="106.0" lengthAdjust="spacingAndGlyphs" stroke="#f6b83a" stroke-width="0.4">reactions</text>
<g filter="url(#sh)"><rect x="831" y="477.6" width="174" height="65.39999999999998" rx="10" ry="10" fill="#e0262c" stroke="#b8304a" stroke-width="1.2"/></g>
<text x="878.4" y="505.6" font-size="24.5" font-weight="bold" fill="url(#ytxt)" textLength="87.6" lengthAdjust="spacingAndGlyphs" stroke="#f6b83a" stroke-width="0.4">Phase II</text>
<text x="853.6" y="531.6" font-size="24.5" font-weight="bold" fill="url(#ytxt)" textLength="137.4" lengthAdjust="spacingAndGlyphs" stroke="#f6b83a" stroke-width="0.4">Conjugation</text>
<g filter="url(#sh)"><rect x="1030" y="234.4" width="155" height="64.6" rx="10" ry="10" fill="#e0262c" stroke="#b8304a" stroke-width="1.2"/></g>
<text x="1060.4" y="261" font-size="25.5" font-weight="bold" fill="url(#ytxt)" textLength="95.2" lengthAdjust="spacingAndGlyphs" stroke="#f6b83a" stroke-width="0.4">Phase III</text>
<text x="1058" y="286.4" font-size="25.5" font-weight="bold" fill="url(#ytxt)" textLength="105.6" lengthAdjust="spacingAndGlyphs" stroke="#f6b83a" stroke-width="0.4">Excretion</text>
<polygon points="167.5,235.0 236.1,269.0 237.9,265.2 168.5,233.0" fill="#0a0a0a"/><polyline points="221.0,268.8 237.9,267.5 228.3,253.5" fill="none" stroke="#0a0a0a" stroke-width="4" stroke-linejoin="miter" stroke-linecap="butt"/>
<polygon points="347.5,320.0 414.1,353.9 416.0,350.2 348.5,318.0" fill="#0a0a0a"/><polyline points="399.0,353.6 416.0,352.5 406.5,338.4" fill="none" stroke="#0a0a0a" stroke-width="4" stroke-linejoin="miter" stroke-linecap="butt"/>
<polygon points="505.4,395.9 611.1,461.5 613.3,457.9 506.6,394.1" fill="#0a0a0a"/><polyline points="596.1,459.8 613.1,460.2 604.9,445.3" fill="none" stroke="#0a0a0a" stroke-width="4" stroke-linejoin="miter" stroke-linecap="butt"/>
<polygon points="719.2,487.9 926.0,455.3 925.3,450.9 718.8,484.9" fill="#0a0a0a"/><polyline points="913.5,463.7 926.6,452.9 910.8,446.9" fill="none" stroke="#0a0a0a" stroke-width="4" stroke-linejoin="miter" stroke-linecap="butt"/>
<path d="M789,502.5 C800,488 815,474 842,467" fill="none" stroke="#0a0a0a" stroke-width="4" stroke-linecap="round"/>
<polygon points="988.1,379.0 988.2,304.2 983.8,304.2 983.9,379.0" fill="#0a0a0a"/><polyline points="993.7,318.4 986.0,303.2 978.3,318.4" fill="none" stroke="#0a0a0a" stroke-width="4" stroke-linejoin="miter" stroke-linecap="butt"/>
<polygon points="980.1,167.0 980.2,94.7 975.8,94.7 975.9,167.0" fill="#0a0a0a"/><polyline points="985.7,108.9 978.0,93.7 970.3,108.9" fill="none" stroke="#0a0a0a" stroke-width="4" stroke-linejoin="miter" stroke-linecap="butt"/>
<text x="38" y="292.4" font-size="33" font-weight="normal" font-style="italic" fill="#0c0c0c" textLength="148.0" lengthAdjust="spacingAndGlyphs">xenobiotic</text>
<text x="574" y="494.4" font-size="30" font-weight="bold"  fill="#0c0c0c" textLength="54.6" lengthAdjust="spacingAndGlyphs">HO-</text>
<text x="891" y="48.4" font-size="31" font-weight="bold"  fill="#0c0c0c" textLength="49.5" lengthAdjust="spacingAndGlyphs">GS-</text>
<text x="877" y="192.6" font-size="30.5" font-weight="bold"  fill="#0c0c0c" textLength="66.6" lengthAdjust="spacingAndGlyphs">MRP</text>
<text x="804" y="458.4" font-size="27" font-weight="bold" font-style="italic" fill="#0c0c0c" textLength="50.0" lengthAdjust="spacingAndGlyphs">GST</text>
<text x="764.4" y="533" font-size="27" font-weight="bold" font-style="italic" fill="#0c0c0c" textLength="52.6" lengthAdjust="spacingAndGlyphs">GSH</text>
<g transform="translate(1020,440.5) rotate(23)"><text x="0" y="7" font-size="26" font-weight="bold" font-style="italic" fill="#0c0c0c" textLength="48.0" lengthAdjust="spacingAndGlyphs">-SG</text></g>
<g transform="translate(607,287) rotate(22.3)"><text x="0" y="0" font-size="16.5" font-style="italic" fill="#10142a" stroke="#10142a" stroke-width="0.5" textLength="171" lengthAdjust="spacingAndGlyphs">Directly to Phase II</text></g>
</g>
</svg>
</body></html>
